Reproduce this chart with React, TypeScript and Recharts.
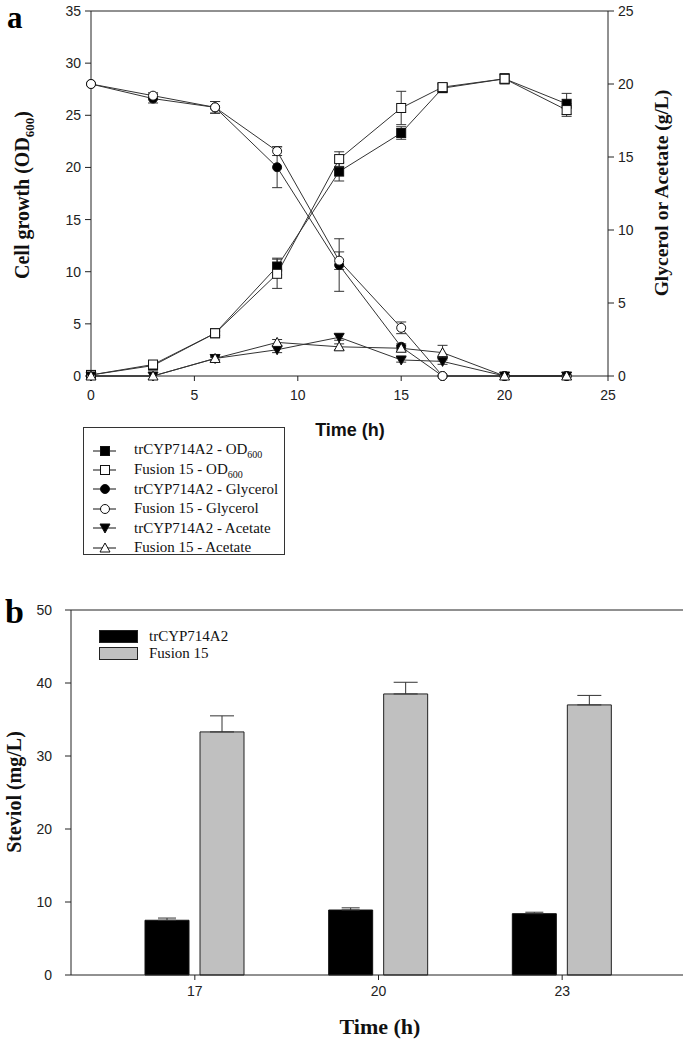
import React from 'react';
import { LineChart, Line, XAxis, YAxis, ErrorBar, ReferenceLine, BarChart, Bar } from 'recharts';

const SANS = '"Liberation Sans", Arial, sans-serif';
const SERIF = '"Liberation Serif", "Times New Roman", serif';
const INK = '#222';

// panel a: time course (h)
const TIMES = [0, 3, 6, 9, 12, 15, 17, 20, 23];
const OD_TR = [0.1, 1.0, 4.1, 10.5, 19.6, 23.3, 27.6, 28.5, 26.1];
const OD_TR_ERR = [0, 0.1, 0.2, 0.8, 0.9, 0.6, 0.4, 0.4, 1.0];
const OD_FU = [0.1, 1.1, 4.1, 9.8, 20.8, 25.7, 27.7, 28.5, 25.5];
const OD_FU_ERR = [0, 0.1, 0.2, 1.4, 0.7, 1.6, 0.4, 0.5, 0.6];
const GLY_TR = [20, 19.0, 18.4, 14.3, 7.6, 2.0, 0, 0, 0];
const GLY_TR_ERR = [0, 0.3, 0.4, 1.4, 1.8, 0.2, 0, 0, 0];
const GLY_FU = [20, 19.2, 18.4, 15.4, 7.9, 3.3, 0, 0, 0];
const GLY_FU_ERR = [0, 0.2, 0.4, 0.3, 0.6, 0.4, 0, 0, 0];
const AC_TR = [0, 0, 1.2, 1.8, 2.65, 1.1, 1.0, 0, 0];
const AC_TR_ERR = [0, 0, 0.1, 0.2, 0.2, 0.15, 0.2, 0, 0];
const AC_FU = [0, 0, 1.2, 2.3, 2.0, 1.9, 1.6, 0, 0];
const AC_FU_ERR = [0, 0, 0.1, 0.2, 0.2, 0.2, 0.5, 0, 0];

const X_TICKS = [0, 5, 10, 15, 20, 25];
const OD_TICKS = [0, 5, 10, 15, 20, 25, 30, 35];
const GL_TICKS = [0, 5, 10, 15, 20, 25];

// panel b: steviol titre
const STEVIOL_TIMES = ['17', '20', '23'];
const STEVIOL_TR = [7.5, 8.9, 8.4];
const STEVIOL_TR_ERR = [0.3, 0.3, 0.2];
const STEVIOL_FU = [33.3, 38.5, 37.0];
const STEVIOL_FU_ERR = [2.2, 1.6, 1.3];
const STEVIOL_TICKS = [0, 10, 20, 30, 40, 50];

const lineData = TIMES.map((t, i) => ({
  t,
  odTr: OD_TR[i], odTrErr: OD_TR_ERR[i],
  odFu: OD_FU[i], odFuErr: OD_FU_ERR[i],
  glyTr: GLY_TR[i], glyTrErr: GLY_TR_ERR[i],
  glyFu: GLY_FU[i], glyFuErr: GLY_FU_ERR[i],
  acTr: AC_TR[i], acTrErr: AC_TR_ERR[i],
  acFu: AC_FU[i], acFuErr: AC_FU_ERR[i],
}));

const barData = STEVIOL_TIMES.map((t, i) => ({
  t,
  tr: STEVIOL_TR[i], trErr: [0, STEVIOL_TR_ERR[i]],
  fu: STEVIOL_FU[i], fuErr: [0, STEVIOL_FU_ERR[i]],
}));

type Shape = 'square' | 'circle' | 'down' | 'up';

function Marker({ shape, filled, cx, cy }: { shape: Shape; filled: boolean; cx: number; cy: number }) {
  const fill = filled ? '#000' : '#fff';
  const s = 4.5;
  if (shape === 'square') {
    return <rect x={cx - s} y={cy - s} width={2 * s} height={2 * s} fill={fill} stroke="#111" strokeWidth={1} />;
  }
  if (shape === 'circle') {
    return <circle cx={cx} cy={cy} r={s} fill={fill} stroke="#111" strokeWidth={1} />;
  }
  if (shape === 'down') {
    return <path d={`M${cx - 5},${cy - 4} L${cx + 5},${cy - 4} L${cx},${cy + 5} Z`} fill={fill} stroke="#111" strokeWidth={1} />;
  }
  return <path d={`M${cx - 5},${cy + 4} L${cx + 5},${cy + 4} L${cx},${cy - 5} Z`} fill={fill} stroke="#111" strokeWidth={1} />;
}

const dot = (shape: Shape, filled: boolean) => (props: any) => {
  const { cx, cy, index } = props;
  if (cx == null || cy == null) return <g key={index} />;
  return <Marker key={index} shape={shape} filled={filled} cx={cx} cy={cy} />;
};

const SERIES: { key: string; axis: string; shape: Shape; filled: boolean; name: string; sub?: string }[] = [
  { key: 'odTr', axis: 'od', shape: 'square', filled: true, name: 'trCYP714A2 - OD', sub: '600' },
  { key: 'odFu', axis: 'od', shape: 'square', filled: false, name: 'Fusion 15 - OD', sub: '600' },
  { key: 'glyTr', axis: 'gl', shape: 'circle', filled: true, name: 'trCYP714A2 - Glycerol' },
  { key: 'glyFu', axis: 'gl', shape: 'circle', filled: false, name: 'Fusion 15 - Glycerol' },
  { key: 'acTr', axis: 'gl', shape: 'down', filled: true, name: 'trCYP714A2 - Acetate' },
  { key: 'acFu', axis: 'gl', shape: 'up', filled: false, name: 'Fusion 15 - Acetate' },
];

const tickStyle = { fontSize: 14, fill: INK, fontFamily: SANS };

function LegendA() {
  return (
    <div
      style={{
        position: 'absolute', left: 83, top: 427, width: 202, height: 128,
        border: '1px solid #333', background: '#fff', paddingTop: 13, boxSizing: 'border-box',
      }}
    >
      {SERIES.map((s) => (
        <div key={s.key} style={{ display: 'flex', alignItems: 'center', height: 19.4, fontFamily: SERIF, fontSize: 15, color: '#111' }}>
          <svg width={32} height={14} style={{ marginLeft: 8, marginRight: 10, flex: 'none' }}>
            <line x1={1} y1={7} x2={24} y2={7} stroke="#111" strokeWidth={1} />
            <Marker shape={s.shape} filled={s.filled} cx={13} cy={7} />
          </svg>
          <span style={{ whiteSpace: 'nowrap' }}>
            {s.name}
            {s.sub && <sub style={{ fontSize: 10 }}>{s.sub}</sub>}
          </span>
        </div>
      ))}
    </div>
  );
}

function LegendB() {
  const items = [
    { label: 'trCYP714A2', fill: '#000' },
    { label: 'Fusion 15', fill: '#c0c0c0' },
  ];
  return (
    <div style={{ position: 'absolute', left: 99, top: 628, fontFamily: SERIF, fontSize: 15, color: '#111' }}>
      {items.map((it) => (
        <div key={it.label} style={{ display: 'flex', alignItems: 'center', height: 17 }}>
          <div style={{ width: 37, height: 11, background: it.fill, border: '1px solid #222', marginRight: 11 }} />
          <span>{it.label}</span>
        </div>
      ))}
    </div>
  );
}

export default function App() {
  return (
    <div style={{ position: 'absolute', left: 0, top: 0, width: 685, height: 1043, background: '#fff', overflow: 'hidden' }}>
      <div style={{ position: 'absolute', left: 0, top: 0 }}>
        <LineChart width={685} height={440} data={lineData} margin={{ top: 11, right: 0, left: 0, bottom: 0 }}>
          <XAxis
            dataKey="t" type="number" domain={[0, 25]} ticks={X_TICKS} interval={0}
            height={64} tickSize={5} tickMargin={9}
            axisLine={{ stroke: INK }} tickLine={{ stroke: INK }} tick={tickStyle}
          />
          <YAxis
            yAxisId="od" domain={[0, 35]} ticks={OD_TICKS} interval={0} width={91}
            tickSize={6} tickMargin={4}
            axisLine={{ stroke: INK }} tickLine={{ stroke: INK }} tick={tickStyle}
          />
          <YAxis
            yAxisId="gl" orientation="right" domain={[0, 25]} ticks={GL_TICKS} interval={0} width={77}
            tickSize={6} tickMargin={4}
            axisLine={{ stroke: INK }} tickLine={{ stroke: INK }} tick={tickStyle}
          />
          <ReferenceLine yAxisId="od" y={35} stroke={INK} />
          {SERIES.map((s) => (
            <Line
              key={s.key}
              yAxisId={s.axis}
              dataKey={s.key}
              stroke="#333"
              strokeWidth={1}
              dot={dot(s.shape, s.filled)}
              activeDot={false}
              isAnimationActive={false}
            >
              <ErrorBar dataKey={`${s.key}Err`} width={5} stroke="#333" strokeWidth={1} direction="y" />
            </Line>
          ))}
        </LineChart>
      </div>

      <LegendA />

      <div style={{ position: 'absolute', left: 0, top: 560 }}>
        <BarChart
          width={685} height={480} data={barData}
          margin={{ top: 50, right: 2, left: 0, bottom: 0 }}
          barSize={44} barGap={11}
        >
          <XAxis
            dataKey="t" padding={{ left: 32, right: 29 }} height={65} tickSize={5} tickMargin={6}
            axisLine={{ stroke: INK }} tickLine={{ stroke: INK }} tick={tickStyle}
          />
          <YAxis
            yAxisId="l" domain={[0, 50]} ticks={STEVIOL_TICKS} interval={0} width={71}
            tickSize={6} tickMargin={13}
            axisLine={{ stroke: INK }} tickLine={{ stroke: INK }} tick={tickStyle}
          />
          <YAxis yAxisId="r" orientation="right" domain={[0, 50]} width={0} tick={false} tickLine={false} axisLine={{ stroke: INK }} />
          <ReferenceLine yAxisId="l" y={50} stroke={INK} />
          <Bar yAxisId="l" dataKey="tr" fill="#000" stroke="#111" strokeWidth={1} isAnimationActive={false}>
            <ErrorBar dataKey="trErr" width={9} stroke="#333" strokeWidth={1} direction="y" />
          </Bar>
          <Bar yAxisId="l" dataKey="fu" fill="#c0c0c0" stroke="#222" strokeWidth={1} isAnimationActive={false}>
            <ErrorBar dataKey="fuErr" width={12} stroke="#333" strokeWidth={1} direction="y" />
          </Bar>
        </BarChart>
      </div>

      <LegendB />

      <svg width={685} height={1043} style={{ position: 'absolute', left: 0, top: 0, pointerEvents: 'none' }}>
        <text x={7} y={28} fontFamily={SERIF} fontWeight="bold" fontSize={31} fill="#000">a</text>
        <text x={5} y={623} fontFamily={SERIF} fontWeight="bold" fontSize={34} fill="#000">b</text>
        <text
          transform="translate(29,195) rotate(-90)" textAnchor="middle"
          fontFamily={SERIF} fontWeight="bold" fontSize={20} fill="#111"
        >
          <tspan>Cell growth (OD</tspan>
          <tspan fontSize={13} dy={5}>600</tspan>
          <tspan dy={-5}>)</tspan>
        </text>
        <text
          transform="translate(668,193) rotate(-90)" textAnchor="middle"
          fontFamily={SERIF} fontWeight="bold" fontSize={19.5} fill="#111"
        >
          Glycerol or Acetate (g/L)
        </text>
        <text x={350} y={436} textAnchor="middle" fontFamily={SANS} fontWeight="bold" fontSize={18} fill="#111">
          Time (h)
        </text>
        <text
          transform="translate(21,792) rotate(-90)" textAnchor="middle"
          fontFamily={SERIF} fontWeight="bold" fontSize={20} fill="#111"
        >
          Steviol (mg/L)
        </text>
        <text x={380} y={1034} textAnchor="middle" fontFamily={SERIF} fontWeight="bold" fontSize={22} fill="#111">
          Time (h)
        </text>
      </svg>
    </div>
  );
}
